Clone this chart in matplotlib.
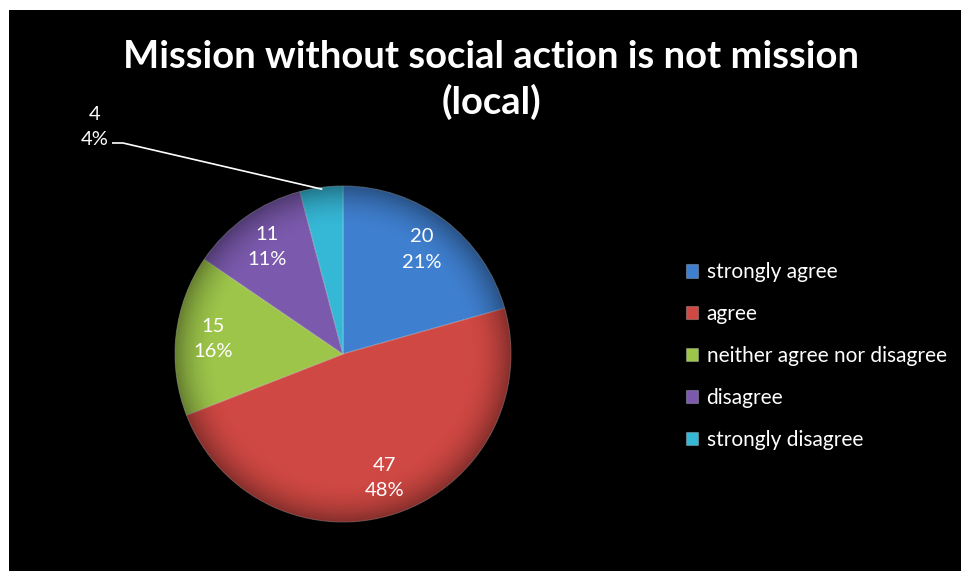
import matplotlib.pyplot as plt
import numpy as np
from matplotlib.patches import Rectangle, Circle

plt.rcParams['font.family'] = ['Lato', 'DejaVu Sans']

title = "Mission without social action is not mission\n(local)"
categories = ["strongly agree", "agree", "neither agree nor disagree",
              "disagree", "strongly disagree"]
counts = [20, 47, 15, 11, 4]
pct_labels = [21, 48, 16, 11, 4]   # as printed on the chart
colors = ["#3F7FCF", "#D04843", "#9DC54A", "#7B5AAE", "#35B7D6"]

W, H = 962, 572
fig = plt.figure(figsize=(W / 100, H / 100), dpi=100)
fig.patch.set_facecolor("white")

# black chart area with a thin white margin at left/top
fig.add_artist(Rectangle((9 / W, 1 / H), 1 - 9 / W, 1 - 11 / H,
                         transform=fig.transFigure, facecolor="black",
                         edgecolor="none", zorder=0))

# pie axes, centre (343, 354) px, radius 168 px
cx, cy, r = 343, 354, 168
ax = fig.add_axes([(cx - r) / W, (H - cy - r) / H, 2 * r / W, 2 * r / H])

wedges, _ = ax.pie(counts, colors=colors, startangle=90, counterclock=False,
                   radius=1, wedgeprops=dict(edgecolor=(1, 1, 1, 0.25),
                                             linewidth=0.8))
ax.set_xlim(-1, 1)
ax.set_ylim(-1, 1)
ax.axis("off")

# shading toward the rim for a bit of depth
n = 300
yy, xx = np.mgrid[-1:1:n * 1j, -1:1:n * 1j]
rr = np.sqrt(xx ** 2 + yy ** 2)
shade = np.zeros((n, n, 4))
shade[..., 3] = np.clip((rr - 0.75) / 0.25, 0, 1) ** 2 * 0.35
img = ax.imshow(shade, extent=(-1, 1, -1, 1), origin="lower", zorder=3)
img.set_clip_path(Circle((0, 0), 1, transform=ax.transData))

for w, c, p in zip(wedges, counts, pct_labels):
    ang = np.deg2rad((w.theta1 + w.theta2) / 2)
    txt = f"{c}\n{p}%"
    if p < 6:
        # outside label with leader line
        lx, ly = -1.48, 1.35
        ax.text(lx, ly, txt, ha="center", va="center", color="white",
                fontsize=14.5, linespacing=1.6, zorder=5, clip_on=False)
        ex, ey = np.cos(ang) * 0.99, np.sin(ang) * 0.99
        ax.plot([-1.37, -1.31, ex], [1.256, 1.256, ey], color="white",
                lw=1.2, zorder=5, clip_on=False)
    else:
        d = 0.78
        ax.text(d * np.cos(ang), d * np.sin(ang), txt, ha="center",
                va="center", color="white", fontsize=14.5, linespacing=1.6,
                zorder=5)

fig.text(491 / W, 1 - 80 / H, title, ha="center", va="center",
         color="white", fontsize=27.5, fontweight="bold", linespacing=1.3)

leg = fig.legend(wedges, categories, loc="center left",
                 bbox_to_anchor=(667 / W, 1 - 356 / H), frameon=False,
                 fontsize=15, labelcolor="white", handlelength=0.6,
                 handleheight=0.6, handletextpad=0.4, labelspacing=1.05)

fig.savefig("out.png", dpi=100, facecolor=fig.get_facecolor())
